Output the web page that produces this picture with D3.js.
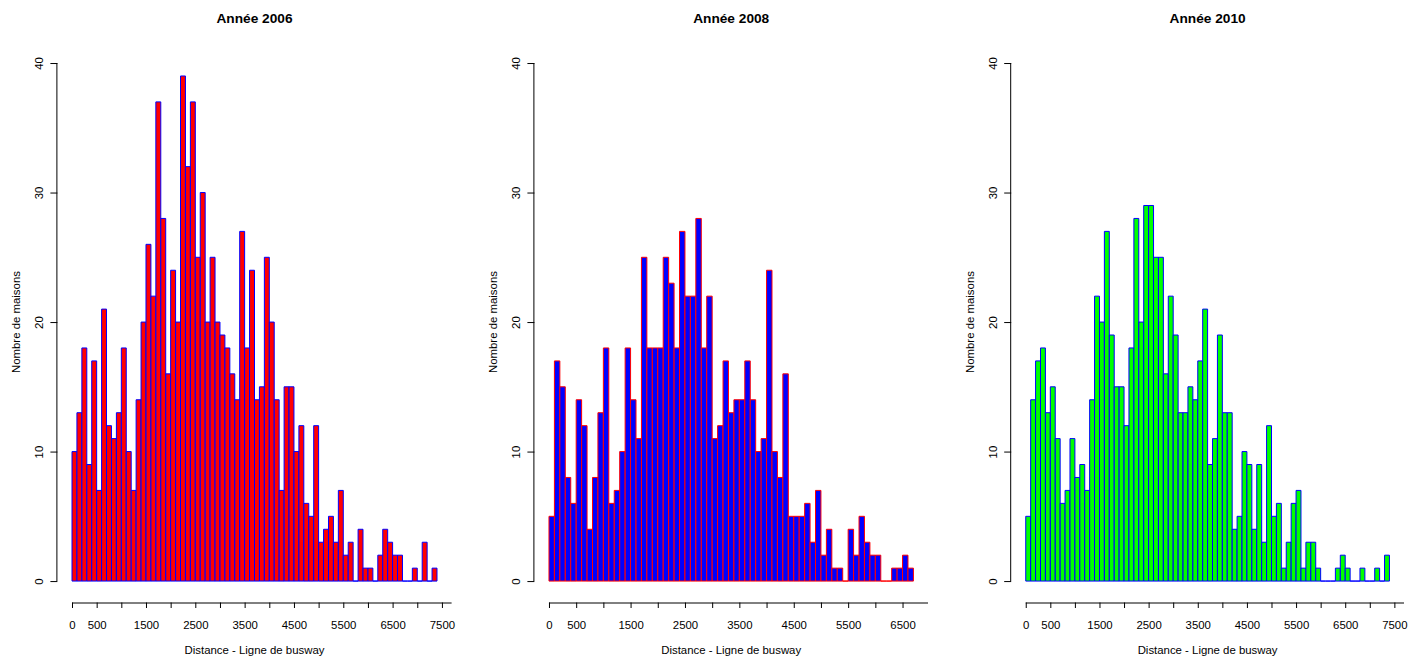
<!DOCTYPE html>
<html>
<head>
<meta charset="utf-8">
<script src="https://cdn.jsdelivr.net/npm/d3@7"></script>
<style>
  body { margin: 0; background: #ffffff; }
  svg { display: block; }
  text { font-family: "Liberation Sans", Arial, Helvetica, sans-serif; fill: #000; }
</style>
</head>
<body>
<svg id="chart" width="1419" height="659"></svg>
<script>
// ---------------- data ----------------
const titles = ["Année 2006", "Année 2008", "Année 2010"];
const binWidth = 100;

const counts2006 = [10,13,18,9,17,7,21,12,11,13,18,10,7,14,20,26,22,37,28,16,
                    24,20,39,32,37,25,30,20,25,20,19,18,16,14,27,18,24,14,15,25,
                    20,14,7,15,15,10,12,6,5,12,3,4,5,3,7,2,3,0,4,1,
                    1,0,2,4,3,2,2,0,0,1,0,3,0,1];

const counts2008 = [5,17,15,8,6,14,12,4,8,13,18,6,7,10,18,14,11,25,18,18,
                    18,25,23,18,27,22,22,28,18,22,11,12,17,13,14,14,17,14,10,11,
                    24,10,8,16,5,5,5,6,3,7,2,4,1,1,0,4,2,5,3,2,
                    2,0,0,1,1,2,1];

const counts2010 = [5,14,17,18,13,15,11,6,7,11,8,9,7,14,22,20,27,19,15,15,
                    12,18,28,20,29,29,25,25,16,22,19,13,13,15,14,17,21,9,11,19,
                    13,13,4,5,10,9,4,9,3,12,5,6,1,3,6,7,1,3,3,1,
                    0,0,0,1,2,1,0,0,1,0,0,1,0,2];

const yTicks = [0, 10, 20, 30, 40];
const xTicks2006 = [0,500,1000,1500,2000,2500,3000,3500,4000,4500,5000,5500,6000,6500,7000,7500];
const xTicks2008 = [0,500,1000,1500,2000,2500,3000,3500,4000,4500,5000,5500,6000,6500];
const xTicks2010 = [0,500,1000,1500,2000,2500,3000,3500,4000,4500,5000,5500,6000,6500,7000,7500];
const xTickLabelsShown = [0,500,1500,2500,3500,4500,5500,6500,7500];

const xLabel = "Distance - Ligne de busway";
const yLabel = "Nombre de maisons";

const fills   = ["#FF0000", "#0000FF", "#00FF00"];
const strokes = ["#0000FF", "#FF0000", "#0000FF"];

// ---------------- layout ----------------
const panelLeft  = [57.4, 534.4, 1011.2];
const panelRight = [451.6, 928.0, 1404.0];
const plotTop = 42.3, plotBottom = 601.8;
const fontSize = 11.4, titleSize = 13.7;

const svg = d3.select("#chart");

const panels = [
  { title: titles[0], counts: counts2006, ticks: xTicks2006 },
  { title: titles[1], counts: counts2008, ticks: xTicks2008 },
  { title: titles[2], counts: counts2010, ticks: xTicks2010 }
];

const y = d3.scaleLinear().domain([-1.6, 41.6]).range([plotBottom, plotTop]);

panels.forEach((p, k) => {
  const maxX = p.counts.length * binWidth;
  const ext = 0.04 * maxX;
  const x = d3.scaleLinear().domain([-ext, maxX + ext]).range([panelLeft[k], panelRight[k]]);
  const g = svg.append("g");

  // bars
  g.selectAll("path.bar")
    .data(p.counts)
    .join("path")
    .attr("class", "bar")
    .attr("d", (v, i) => {
      const x0 = x(i * binWidth), x1 = x((i + 1) * binWidth);
      const y0 = y(0), y1 = y(v);
      return `M${x0},${y0}V${y1}H${x1}V${y0}Z`;
    })
    .attr("fill", fills[k])
    .attr("stroke", strokes[k])
    .attr("stroke-width", 1);

  // x axis
  const xAxis = d3.axisBottom(x)
    .tickValues(p.ticks)
    .tickSize(5.5)
    .tickSizeOuter(0)
    .tickPadding(13)
    .tickFormat(d => xTickLabelsShown.includes(d) ? String(d) : "");
  const gx = g.append("g")
    .attr("transform", `translate(0,${plotBottom + 0.7})`)
    .call(xAxis);
  gx.select(".domain").remove();
  gx.selectAll(".tick line").attr("stroke", "#000");
  gx.selectAll(".tick text")
    .attr("font-size", fontSize)
    .attr("font-family", '"Liberation Sans", Arial, sans-serif')
    .attr("dy", null)
    .attr("y", 26);
  gx.append("line")
    .attr("x1", x(0)).attr("x2", panelRight[k])
    .attr("y1", 0.5).attr("y2", 0.5)
    .attr("stroke", "#000");

  // y axis
  const yAxis = d3.axisLeft(y)
    .tickValues(yTicks)
    .tickSize(7)
    .tickSizeOuter(0)
    .tickFormat(d => String(d));
  const gy = g.append("g")
    .attr("transform", `translate(${panelLeft[k]},0)`)
    .call(yAxis);
  gy.select(".domain").remove();
  gy.selectAll(".tick line").attr("stroke", "#000");
  gy.selectAll(".tick text")
    .attr("font-size", fontSize)
    .attr("font-family", '"Liberation Sans", Arial, sans-serif')
    .attr("x", null).attr("dy", null)
    .attr("text-anchor", "middle")
    .attr("transform", "translate(-14,0) rotate(-90)");
  gy.append("line")
    .attr("x1", -0.5).attr("x2", -0.5)
    .attr("y1", y(0)).attr("y2", y(40))
    .attr("stroke", "#000");

  // titles
  const cx = (panelLeft[k] + panelRight[k]) / 2;
  g.append("text")
    .attr("x", cx).attr("y", 23)
    .attr("text-anchor", "middle")
    .attr("font-size", titleSize)
    .attr("font-weight", "bold")
    .text(p.title);

  g.append("text")
    .attr("x", cx).attr("y", 654)
    .attr("text-anchor", "middle")
    .attr("font-size", fontSize)
    .text(xLabel);

  g.append("text")
    .attr("transform", `translate(${panelLeft[k] - 37},${(plotTop + plotBottom) / 2}) rotate(-90)`)
    .attr("text-anchor", "middle")
    .attr("font-size", fontSize)
    .text(yLabel);
});
</script>
</body>
</html>
